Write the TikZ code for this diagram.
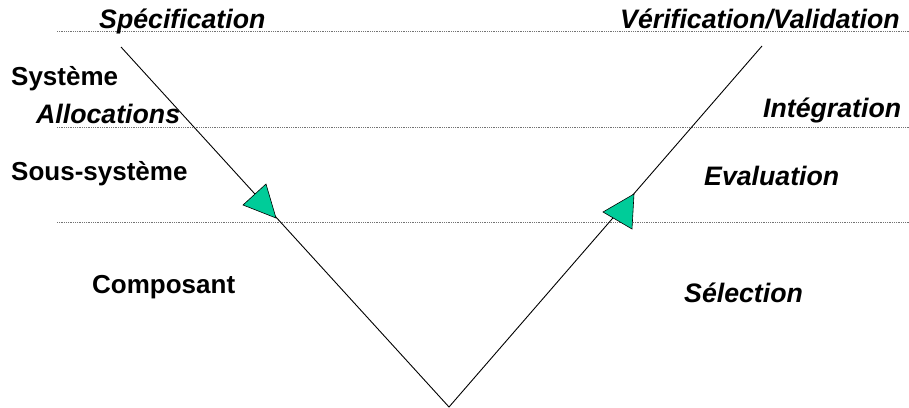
\documentclass[tikz,border=0pt]{standalone}
\usepackage{fontspec}
\setmainfont{Liberation Sans}
\begin{document}
\begin{tikzpicture}[x=1pt,y=-1pt,
  lvl/.style={draw=black!55,line width=0.7pt,dash pattern=on 0.9pt off 0.9pt},
  vline/.style={draw=black,line width=0.9pt},
  flow/.style={draw=black,line width=0.6pt,fill=vgreen,line join=miter},
  phase/.style={anchor=base west,inner sep=0pt,font=\fontsize{26.7}{30}\selectfont\bfseries\itshape},
  level/.style={anchor=base west,inner sep=0pt,font=\fontsize{26}{30}\selectfont\bfseries}]
\definecolor{vgreen}{RGB}{0,204,153}
\useasboundingbox (0,0) rectangle (909,407);

% horizontal level separators
\coordinate (l1a) at (57,31);  \coordinate (l1b) at (909,31);
\coordinate (l2a) at (57,127); \coordinate (l2b) at (909,127);
\coordinate (l3a) at (57,222); \coordinate (l3b) at (909,222);
\draw[lvl] (l1a) -- (l1b);
\draw[lvl] (l2a) -- (l2b);
\draw[lvl] (l3a) -- (l3b);

% the V
\coordinate (top left) at (121,47);
\coordinate (bottom) at (449,407);
\coordinate (top right) at (762,46);
\draw[vline] (top left) -- (bottom) -- (top right);

% direction markers
\coordinate (da) at (266,184); \coordinate (db) at (243,205); \coordinate (dc) at (276,218);
\coordinate (ua) at (634,194); \coordinate (ub) at (603,212); \coordinate (uc) at (632,229);
\draw[flow] (da) -- (db) -- (dc) -- cycle;
\draw[flow] (ua) -- (ub) -- (uc) -- cycle;

% labels
\node[phase] (spec) at (99,28) {Spécification};
\node[phase] (verif) at (620,28) {Vérification/Validation};
\node[level] (sys) at (11,85) {Système};
\node[phase] (alloc) at (36,123) {Allocations};
\node[level] (ssys) at (11,180) {Sous-système};
\node[level] (comp) at (92,293) {Composant};
\node[phase] (integ) at (763,117) {Intégration};
\node[phase] (eval) at (704,185) {Evaluation};
\node[phase] (sel) at (684,302) {Sélection};
\end{tikzpicture}
\end{document}
